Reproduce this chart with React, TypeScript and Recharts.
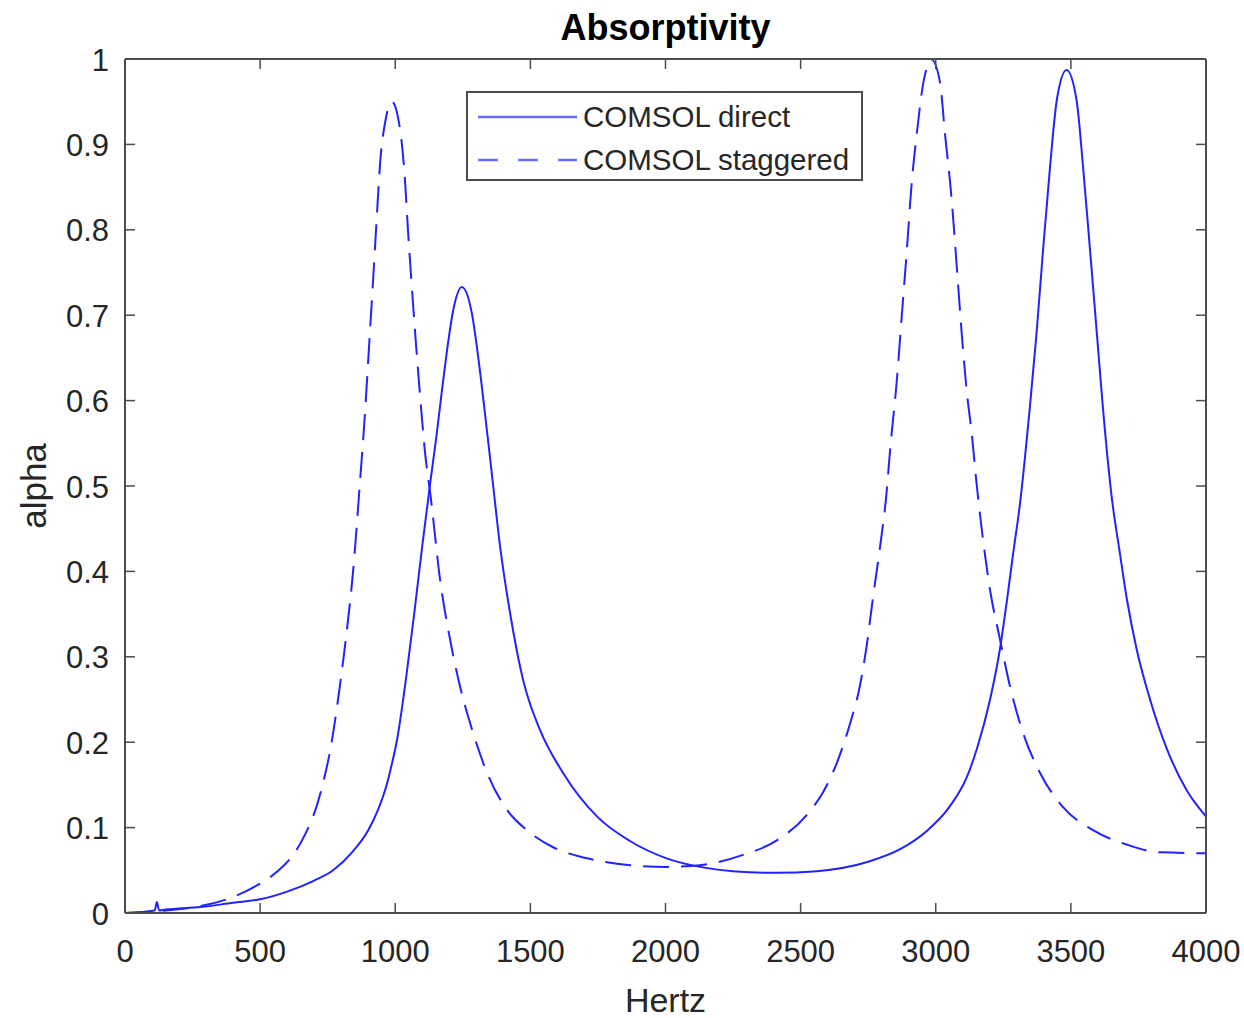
import React from 'react';
import { LineChart, Line, XAxis, YAxis } from 'recharts';

// frequency (Hz) and absorptivity
const directHz = [
  0, 110, 118, 126, 150, 280, 400, 500, 600, 700, 770, 840, 900, 935, 970, 990, 1005, 1040, 1070, 1100, 1130, 1153,
  1172, 1190, 1214, 1246, 1283, 1307, 1332, 1360, 1388, 1425, 1473, 1536, 1621, 1750, 1870, 2004, 2128, 2250, 2410,
  2560, 2750, 2870, 2970, 3050, 3115, 3152, 3201, 3238, 3263, 3286, 3312, 3349, 3373, 3397, 3423, 3448, 3484,
  3521, 3545, 3571, 3596, 3619, 3650, 3682, 3707, 3744, 3793, 3854, 3928, 4000,
];
const directAlpha = [
  0, 0.003, 0.013, 0.003, 0.004, 0.007, 0.012, 0.016, 0.025, 0.038, 0.05, 0.071, 0.097, 0.12, 0.152, 0.178, 0.2,
  0.275, 0.35, 0.43, 0.505, 0.56, 0.61, 0.655, 0.705, 0.733, 0.703, 0.651, 0.585, 0.507, 0.429, 0.351, 0.273, 0.214,
  0.164, 0.112, 0.084, 0.064, 0.054, 0.049, 0.047, 0.049, 0.06, 0.075, 0.097, 0.124, 0.159, 0.192, 0.25, 0.31,
  0.365, 0.42, 0.48, 0.595, 0.679, 0.776, 0.874, 0.952, 0.987, 0.952, 0.874, 0.776, 0.679, 0.59, 0.49, 0.42,
  0.368, 0.308, 0.25, 0.193, 0.144, 0.113,
];

const staggeredHz = [
  0, 278, 376, 475, 561, 622, 660, 710, 735, 759, 796, 821, 844, 870, 888, 903, 918, 931, 944, 965, 987, 1018, 1036,
  1047, 1061, 1073, 1092, 1110, 1132, 1166, 1203, 1240, 1288, 1340, 1413, 1487, 1584, 1710, 1869, 2004, 2128,
  2287, 2412, 2523, 2584, 2633, 2683, 2720, 2744, 2768, 2794, 2818, 2831, 2855, 2874, 2893, 2911, 2930, 2954,
  2985, 3016, 3034, 3059, 3078, 3096, 3115, 3133, 3152, 3175, 3201, 3238, 3275, 3323, 3386, 3471, 3582, 3708,
  3830, 4000,
];
const staggeredAlpha = [
  0, 0.008, 0.016, 0.03, 0.048, 0.068, 0.088, 0.126, 0.155, 0.19, 0.268, 0.331, 0.4, 0.507, 0.585, 0.663, 0.741,
  0.811, 0.878, 0.93, 0.95, 0.917, 0.858, 0.8, 0.735, 0.682, 0.605, 0.54, 0.485, 0.39, 0.32, 0.265, 0.211, 0.164,
  0.121, 0.097, 0.077, 0.064, 0.056, 0.054, 0.056, 0.068, 0.085, 0.115, 0.142, 0.175, 0.222, 0.267, 0.312, 0.37,
  0.429, 0.492, 0.542, 0.62, 0.698, 0.776, 0.855, 0.913, 0.972, 0.999, 0.972, 0.913, 0.835, 0.756, 0.679, 0.61,
  0.562, 0.5, 0.437, 0.378, 0.32, 0.265, 0.211, 0.164, 0.124, 0.097, 0.08, 0.071, 0.07,
];

const xTicks = [0, 500, 1000, 1500, 2000, 2500, 3000, 3500, 4000];
const yTicks = [0, 0.1, 0.2, 0.3, 0.4, 0.5, 0.6, 0.7, 0.8, 0.9, 1];

const directData = directHz.map((hz, i) => ({ hz, alpha: directAlpha[i] }));
const staggeredData = staggeredHz.map((hz, i) => ({ hz, alpha: staggeredAlpha[i] }));

const FONT = '"Liberation Sans", Arial, Helvetica, sans-serif';
const AXIS = '#4d4d4d';
const LABEL = '#262626';
const BLUE = '#2222ff';
const TICK_LEN = 10;

const fmtY = (v: number) => String(+Number(v).toFixed(1));

const BottomTick = (props: any) => {
  const { x, y, payload } = props;
  return (
    <g>
      <line x1={x} x2={x} y1={y} y2={y - TICK_LEN} stroke={AXIS} strokeWidth={1.5} />
      <text x={x} y={y + 38} textAnchor="middle" dominantBaseline="central" fontSize={31} fill={LABEL} fontFamily={FONT}>
        {payload.value}
      </text>
    </g>
  );
};

const TopTick = (props: any) => {
  const { x, y } = props;
  return <line x1={x} x2={x} y1={y} y2={y + TICK_LEN} stroke={AXIS} strokeWidth={1.5} />;
};

const LeftTick = (props: any) => {
  const { x, y, payload } = props;
  return (
    <g>
      <line x1={x} x2={x + TICK_LEN} y1={y} y2={y} stroke={AXIS} strokeWidth={1.5} />
      <text x={x - 16} y={y + 1} textAnchor="end" dominantBaseline="central" fontSize={31} fill={LABEL} fontFamily={FONT}>
        {fmtY(payload.value)}
      </text>
    </g>
  );
};

const RightTick = (props: any) => {
  const { x, y } = props;
  return <line x1={x} x2={x - TICK_LEN} y1={y} y2={y} stroke={AXIS} strokeWidth={1.5} />;
};

export default function App() {
  return (
    <div style={{ position: 'absolute', left: 0, top: 0, width: 1244, height: 1018, background: '#fff', fontFamily: FONT }}>
      <LineChart width={1244} height={1018} margin={{ top: 58, right: 37, bottom: 0, left: 0 }}>
        <XAxis
          xAxisId="bottom"
          dataKey="hz"
          type="number"
          domain={[0, 4000]}
          ticks={xTicks}
          interval={0}
          height={105}
          tickSize={0}
          tickMargin={0}
          tickLine={false}
          axisLine={{ stroke: AXIS, strokeWidth: 2 }}
          tick={<BottomTick />}
          allowDataOverflow
        />
        <XAxis
          xAxisId="top"
          orientation="top"
          dataKey="hz"
          type="number"
          domain={[0, 4000]}
          ticks={xTicks}
          interval={0}
          height={1}
          tickSize={0}
          tickMargin={0}
          tickLine={false}
          axisLine={{ stroke: AXIS, strokeWidth: 2 }}
          tick={<TopTick />}
          allowDataOverflow
        />
        <YAxis
          yAxisId="left"
          type="number"
          domain={[0, 1]}
          ticks={yTicks}
          interval={0}
          width={125}
          tickSize={0}
          tickMargin={0}
          tickLine={false}
          axisLine={{ stroke: AXIS, strokeWidth: 2 }}
          tick={<LeftTick />}
          allowDataOverflow
        />
        <YAxis
          yAxisId="right"
          orientation="right"
          type="number"
          domain={[0, 1]}
          ticks={yTicks}
          interval={0}
          width={1}
          tickSize={0}
          tickMargin={0}
          tickLine={false}
          axisLine={{ stroke: AXIS, strokeWidth: 2 }}
          tick={<RightTick />}
          allowDataOverflow
        />
        {/* invisible series so the top and right axes (box frame) get drawn */}
        <Line
          xAxisId="top"
          yAxisId="right"
          data={directData}
          dataKey="alpha"
          stroke="none"
          dot={false}
          activeDot={false}
          legendType="none"
          isAnimationActive={false}
        />
        <Line
          xAxisId="bottom"
          yAxisId="left"
          data={directData}
          dataKey="alpha"
          type="monotone"
          stroke={BLUE}
          strokeWidth={2}
          dot={false}
          activeDot={false}
          isAnimationActive={false}
        />
        <Line
          xAxisId="bottom"
          yAxisId="left"
          data={staggeredData}
          dataKey="alpha"
          type="monotone"
          stroke={BLUE}
          strokeWidth={2}
          strokeDasharray="26 12"
          dot={false}
          activeDot={false}
          isAnimationActive={false}
        />
      </LineChart>

      {/* title and axis labels */}
      <div style={{ position: 'absolute', left: 125, width: 1081, top: 6, textAlign: 'center', fontSize: 36, fontWeight: 'bold', color: '#000', lineHeight: '44px' }}>
        Absorptivity
      </div>
      <div style={{ position: 'absolute', left: 125, width: 1081, top: 978, textAlign: 'center', fontSize: 34, color: LABEL, lineHeight: '44px' }}>
        Hertz
      </div>
      <div
        style={{
          position: 'absolute',
          left: 34,
          top: 486,
          transform: 'translate(-50%, -50%) rotate(-90deg)',
          fontSize: 35,
          color: LABEL,
          lineHeight: '44px',
          whiteSpace: 'nowrap',
        }}
      >
        alpha
      </div>

      {/* legend */}
      <div
        style={{
          position: 'absolute',
          left: 466,
          top: 91,
          width: 397,
          height: 90,
          boxSizing: 'border-box',
          border: `2px solid ${AXIS}`,
          background: '#fff',
        }}
      >
        <svg width={110} height={86} style={{ position: 'absolute', left: 8, top: 0 }}>
          <line x1={2} x2={101} y1={24} y2={24} stroke="#6b6bff" strokeWidth={2.5} />
          <line x1={2} x2={101} y1={67} y2={67} stroke="#6b6bff" strokeWidth={2.5} strokeDasharray="20 20" />
        </svg>
        <div style={{ position: 'absolute', left: 115, top: 6, fontSize: 29.5, color: LABEL, lineHeight: '36px', whiteSpace: 'nowrap' }}>
          COMSOL direct
        </div>
        <div style={{ position: 'absolute', left: 115, top: 49, fontSize: 29.5, color: LABEL, lineHeight: '36px', whiteSpace: 'nowrap' }}>
          COMSOL staggered
        </div>
      </div>
    </div>
  );
}
